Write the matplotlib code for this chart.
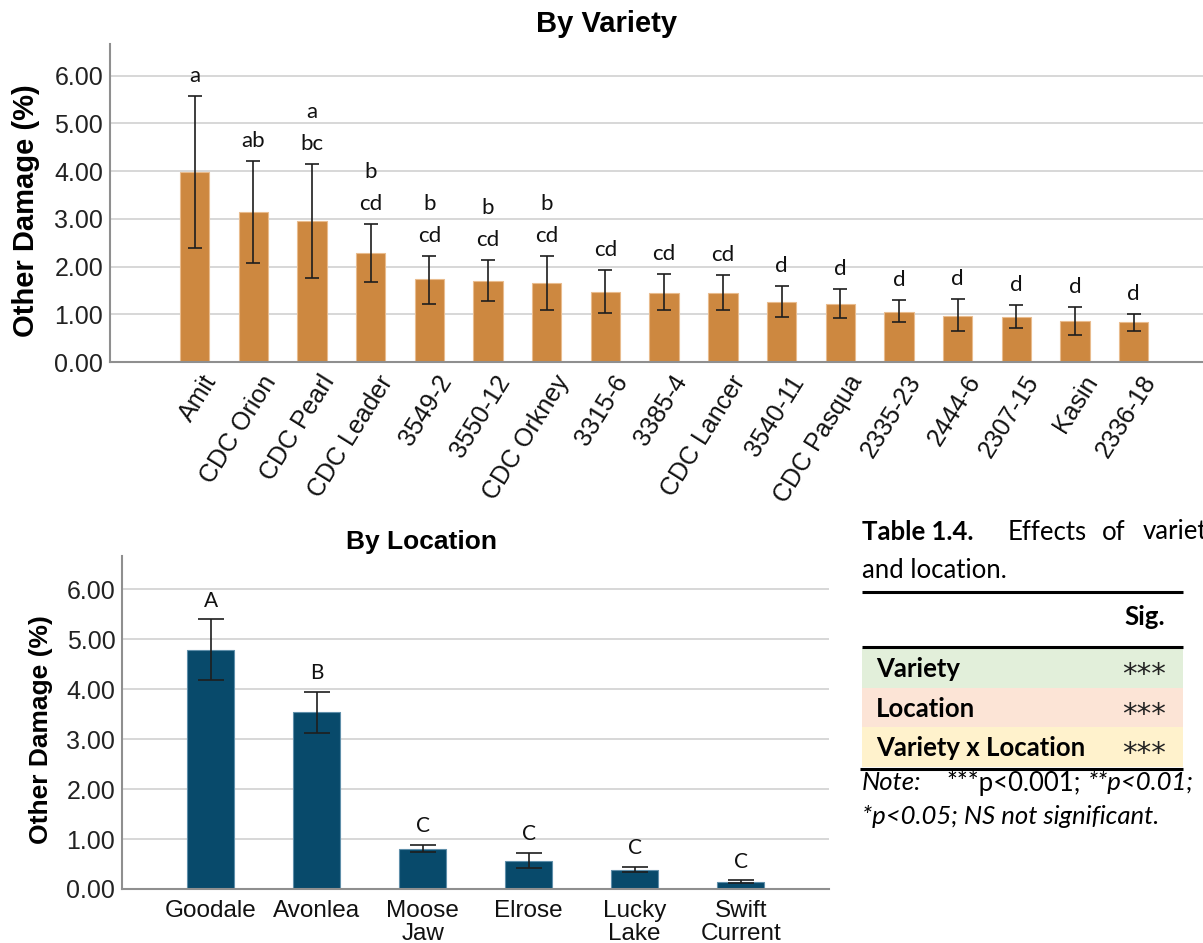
import numpy as np
import matplotlib
matplotlib.use("Agg")
import matplotlib.pyplot as plt
from matplotlib.patches import Rectangle
from matplotlib.transforms import ScaledTranslation

# mean other damage (%) with 95% CI limits, by variety
varieties = ["Amit", "CDC Orion", "CDC Pearl", "CDC Leader", "3549-2", "3550-12",
             "CDC Orkney", "3315-6", "3385-4", "CDC Lancer", "3540-11", "CDC Pasqua",
             "2335-23", "2444-6", "2307-15", "Kasin", "2336-18"]
var_mean = [3.98, 3.14, 2.96, 2.28, 1.73, 1.70, 1.65, 1.47, 1.45, 1.45,
            1.26, 1.22, 1.05, 0.97, 0.94, 0.85, 0.83]
var_hi = [5.58, 4.21, 4.16, 2.89, 2.22, 2.14, 2.22, 1.93, 1.84, 1.82,
          1.59, 1.54, 1.31, 1.32, 1.20, 1.16, 1.01]
var_lo = [2.39, 2.07, 1.77, 1.68, 1.22, 1.28, 1.10, 1.03, 1.08, 1.09,
          0.95, 0.92, 0.83, 0.64, 0.71, 0.56, 0.66]
var_groups = ["a", "ab", "a\nbc", "b\ncd", "b\ncd", "b\ncd", "b\ncd", "cd", "cd", "cd",
              "d", "d", "d", "d", "d", "d", "d"]

# same, by location
locations = ["Goodale", "Avonlea", "Moose\nJaw", "Elrose", "Lucky\nLake", "Swift\nCurrent"]
loc_mean = [4.78, 3.54, 0.81, 0.57, 0.39, 0.15]
loc_hi = [5.40, 3.95, 0.89, 0.73, 0.45, 0.18]
loc_lo = [4.18, 3.12, 0.74, 0.43, 0.34, 0.12]
loc_groups = ["A", "B", "C", "C", "C", "C"]

# ANOVA summary
effects = ["Variety", "Location", "Variety x Location"]
effect_sig = ["***", "***", "***"]
effect_colors = ["#E2EFDA", "#FCE4D6", "#FFF2CC"]

ARIAL = "Liberation Sans"
CALIBRI = "Lato"
W, H = 1203, 943

fig = plt.figure(figsize=(W / 100, H / 100), dpi=100)


def style_axes(ax, tick_size):
    ax.set_ylim(0, 20 / 3)
    ax.set_yticks(range(0, 7))
    ax.set_yticklabels(["%.2f" % v for v in range(0, 7)], fontsize=tick_size, family=ARIAL,
                       color="#222222")
    ax.grid(axis="y", color="#D4D4D4", lw=1.3)
    ax.set_axisbelow(True)
    for s in ["top", "right"]:
        ax.spines[s].set_visible(False)
    for s in ["left", "bottom"]:
        ax.spines[s].set_color("#8F8F8F")
        ax.spines[s].set_linewidth(1.5)
    ax.tick_params(length=0)
    ax.tick_params(axis="y", pad=5)


def draw_bars(ax, mean, lo, hi, groups, color, edge, width, capsize, fsize, gap):
    x = np.arange(len(mean))
    mean = np.array(mean)
    yerr = [mean - np.array(lo), np.array(hi) - mean]
    ax.bar(x, mean, width=width, color=color, edgecolor=edge, linewidth=0.8, zorder=2)
    ax.errorbar(x, mean, yerr=yerr, fmt="none", ecolor="#1E1E1E", elinewidth=1.2,
                capsize=capsize, capthick=1.2, zorder=3)
    for xi, top, g in zip(x, hi, groups):
        lines = g.split("\n")
        for k, txt in enumerate(reversed(lines)):
            ax.annotate(txt, (xi, top), xytext=(0, gap + 23 * k), textcoords="offset points",
                        ha="center", va="baseline", fontsize=fsize, family=CALIBRI,
                        color="#111111")
    return x


# ---- By Variety ----
ax1 = fig.add_axes([110 / W, 1 - 362 / H, (W - 110) / W, 318 / H])
style_axes(ax1, 18)
x1 = draw_bars(ax1, var_mean, var_lo, var_hi, var_groups, "#CD8840", "#E9BC8E",
               0.5, 5.3, 16, 10)
ax1.set_xlim(-1.44, 17.18)
ax1.set_xticks(x1)
ax1.set_xticklabels(varieties, rotation=58, ha="right", va="top", rotation_mode="anchor",
                    fontsize=18, family=ARIAL, color="#111111")
shift = ScaledTranslation(5 / 72, -3 / 72, fig.dpi_scale_trans)
for lab in ax1.get_xticklabels():
    lab.set_transform(lab.get_transform() + shift)
ax1.set_ylabel("Other Damage (%)", fontsize=21, weight="bold", family=ARIAL)
ax1.yaxis.set_label_coords(-0.064, 0.475)
fig.text(607 / W, 1 - 24 / H, "By Variety", ha="center", va="center", fontsize=21,
         weight="bold", family=ARIAL)

# ---- By Location ----
ax2 = fig.add_axes([122.3 / W, 1 - 889 / H, (829 - 122.3) / W, 333 / H])
style_axes(ax2, 18)
x2 = draw_bars(ax2, loc_mean, loc_lo, loc_hi, loc_groups, "#084A6B", "#5F8FAA",
               0.446, 9.4, 15, 9)
ax2.set_xlim(-0.833, 5.833)
ax2.set_xticks(x2)
ax2.set_xticklabels(locations, fontsize=17.5, family=ARIAL, color="#111111",
                    linespacing=1.05)
ax2.tick_params(axis="x", pad=8)
ax2.set_ylabel("Other Damage (%)", fontsize=19, weight="bold", family=ARIAL)
ax2.yaxis.set_label_coords(-0.098, 0.48)
fig.text(421 / W, 1 - 542 / H, "By Location", ha="center", va="center", fontsize=19,
         weight="bold", family=ARIAL)

# ---- significance table (pixel coordinates) ----
tb = fig.add_axes([0, 0, 1, 1], zorder=-1)
tb.set_xlim(0, W)
tb.set_ylim(H, 0)
tb.axis("off")

fs = 18.5
tb.text(862, 532, "Table 1.4.", fontsize=fs, weight="bold", family=CALIBRI, va="center")
for word, wx in [("Effects", 1008), ("of", 1102), ("variety", 1143)]:
    tb.text(wx, 532, word, fontsize=fs, family=CALIBRI, va="center")
tb.text(862, 571, "and location.", fontsize=fs, family=CALIBRI, va="center")

tb.plot([862, 1183], [592.3, 592.3], color="black", lw=2.2, solid_capstyle="butt")
tb.text(1165, 617, "Sig.", fontsize=fs, weight="bold", family=CALIBRI, va="center", ha="right")
tb.plot([862, 1183], [647, 647], color="black", lw=2.2, solid_capstyle="butt")

row_top, row_h = 648.3, 39.5
for i, (name, sig, col) in enumerate(zip(effects, effect_sig, effect_colors)):
    y0 = row_top + i * row_h
    tb.add_patch(Rectangle((862, y0), 321, row_h, facecolor=col, edgecolor="none"))
    tb.text(876, y0 + row_h / 2 + 1, name, fontsize=fs, weight="bold", family=CALIBRI,
            va="center")
    tb.text(1166, y0 + row_h / 2 + 7, sig, fontsize=21, family="DejaVu Sans",
            va="center", ha="right", color="#222222")
tb.plot([860, 1183], [768.7, 768.7], color="black", lw=2.2, solid_capstyle="butt")

tb.text(862, 783, "Note:", fontsize=fs, style="italic", family=CALIBRI, va="center")
tb.text(946, 783, "***p<0.001;", fontsize=fs, family=CALIBRI, va="center")
tb.text(1088, 783, "**p<0.01;", fontsize=fs, style="italic", family=CALIBRI, va="center")
tb.text(862, 817, "*p<0.05; NS not significant.", fontsize=fs, style="italic",
        family=CALIBRI, va="center")

fig.savefig("out.png", dpi=100)
